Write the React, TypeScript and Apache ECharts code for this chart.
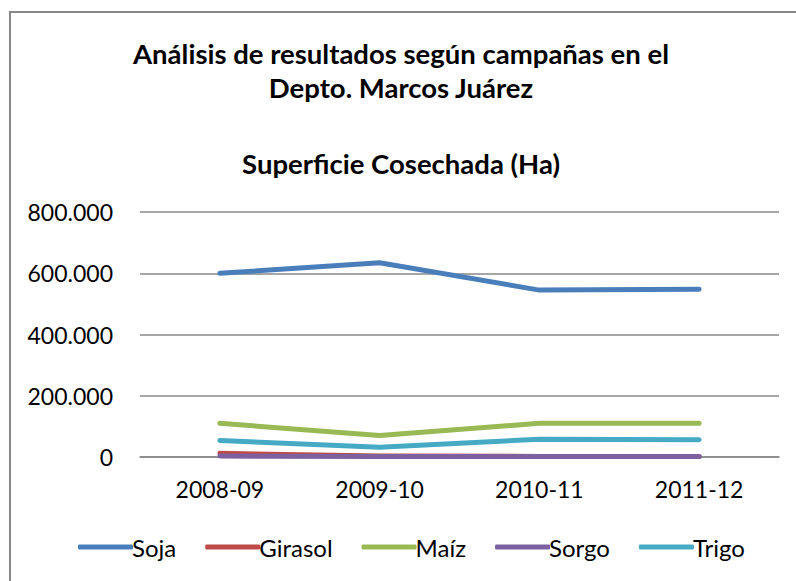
import React, { useEffect, useRef } from "react";
import * as echarts from "echarts";

const categories = ["2008-09", "2009-10", "2010-11", "2011-12"];
const soja = [600000, 634000, 545000, 548000];
const girasol = [12000, 3000, 2000, 2000];
const maiz = [110000, 70000, 110000, 110000];
const sorgo = [3000, 2000, 2000, 2000];
const trigo = [54000, 32000, 58000, 56000];
const seriesNames = ["Soja", "Girasol", "Maíz", "Sorgo", "Trigo"];
const seriesColors = ["#4A7EBB", "#BE4B48", "#98B954", "#7D60A0", "#46AAC5"];
const titleText = "Análisis de resultados según campañas en el\nDepto. Marcos Juárez";
const subtitleText = "Superficie Cosechada (Ha)";

const FONT = "Lato, 'Open Sans', sans-serif";

export default function App() {
  const ref = useRef<HTMLDivElement>(null);
  useEffect(() => {
    if (!ref.current) return;
    const chart = echarts.init(ref.current, undefined, { renderer: "svg" });
    const data = [soja, girasol, maiz, sorgo, trigo];
    chart.setOption({
      animation: false,
      backgroundColor: "#ffffff",
      textStyle: { fontFamily: FONT },
      graphic: [
        {
          type: "rect",
          shape: { x: 10, y: 12, width: 820, height: 620 },
          style: { fill: "none", stroke: "#888888", lineWidth: 2 },
          silent: true,
        },
      ],
      title: [
        {
          text: titleText,
          left: 396,
          top: 31,
          textAlign: "center",
          textStyle: { fontFamily: FONT, fontSize: 27.5, fontWeight: "bold", color: "#000", lineHeight: 34 },
        },
        {
          text: subtitleText,
          left: 396,
          top: 141,
          textAlign: "center",
          textStyle: { fontFamily: FONT, fontSize: 27.5, fontWeight: "bold", color: "#000", lineHeight: 34 },
        },
      ],
      legend: {
        left: 73,
        top: 530,
        itemWidth: 55,
        itemHeight: 5,
        itemGap: 29,
        icon: "roundRect",
        textStyle: { fontFamily: FONT, fontSize: 24, color: "#000", padding: [0, 0, 0, -6] },
        data: seriesNames,
      },
      grid: { left: 140, right: 17, top: 212, bottom: 124 },
      xAxis: {
        type: "category",
        data: categories,
        boundaryGap: true,
        axisLine: { show: true, lineStyle: { color: "#888888", width: 1.5 } },
        axisTick: { show: false },
        axisLabel: { fontFamily: FONT, fontSize: 23, color: "#000", margin: 20 },
      },
      yAxis: {
        type: "value",
        min: 0,
        max: 800000,
        interval: 200000,
        axisLine: { show: false },
        axisTick: { show: false },
        splitLine: { lineStyle: { color: "#888888", width: 1.5 } },
        axisLabel: {
          fontFamily: FONT,
          fontSize: 23,
          color: "#000",
          margin: 27,
          formatter: (v: number) => (v === 0 ? "0" : (v / 1000).toFixed(0) + ".000"),
        },
      },
      series: seriesNames.map((name, i) => ({
        name,
        type: "line",
        data: data[i],
        symbol: "none",
        color: seriesColors[i],
        lineStyle: { width: 5, color: seriesColors[i], cap: "round", join: "round" },
      })),
    });
    return () => chart.dispose();
  }, []);
  return (
    <div
      ref={ref}
      style={{ position: "fixed", left: 0, top: 0, width: 796, height: 581 }}
    />
  );
}
